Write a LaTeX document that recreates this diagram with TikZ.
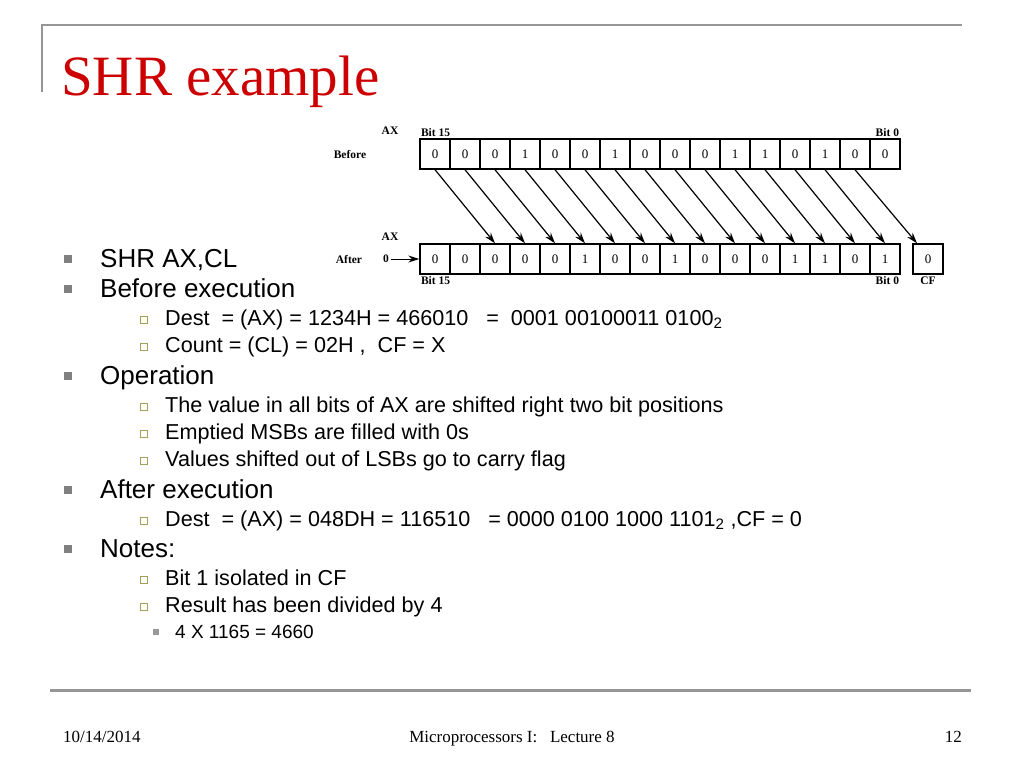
\documentclass[tikz,border=0pt]{standalone}
\usepackage{fontspec}
\setmainfont{Liberation Sans}
\newfontfamily\slideserif{Liberation Serif}
\usepackage{tikz}
\usetikzlibrary{arrows.meta,positioning}
\definecolor{titlered}{RGB}{204,0,0}
\definecolor{rulegray}{RGB}{150,150,150}
\definecolor{bulgray}{RGB}{128,128,128}
\definecolor{bulolive}{RGB}{160,160,90}

\tikzset{
  bit/.style={draw,line width=1.4pt,minimum width=30pt,minimum height=30pt,
    inner sep=0pt,font=\slideserif\fontsize{13}{13}\selectfont},
  lbl/.style={inner sep=1.5pt,font=\slideserif\bfseries\fontsize{11.5}{11.5}\selectfont},
  bitarrow/.style={->,line width=1.2pt},
  lone/.style={anchor=base west,inner sep=0pt,font=\fontsize{26}{26}\selectfont},
  ltwo/.style={anchor=base west,inner sep=0pt,font=\fontsize{21.6}{22}\selectfont},
  lthree/.style={anchor=base west,inner sep=0pt,font=\fontsize{19}{19}\selectfont},
  bone/.style={fill=bulgray,minimum size=8pt,inner sep=0pt},
  btwo/.style={draw=bulolive,fill=white,line width=1pt,minimum size=6.5pt,inner sep=0pt},
  bthree/.style={fill=bulgray!80,minimum size=6pt,inner sep=0pt},
  foot/.style={inner sep=0pt,font=\slideserif\fontsize{17}{17}\selectfont}
}

\begin{document}
\begin{tikzpicture}[x=1pt,y=-1pt,>={Stealth[length=11pt,width=7pt]}]
  \useasboundingbox[fill=white] (0,0) rectangle (1024,768);

  % frame and title
  \draw[rulegray,line width=2pt] (42,92) -- (42,25) -- (962,25);
  \draw[rulegray,line width=3pt] (50,690) -- (971,690);
  \node[anchor=base west,inner sep=0pt,text=titlered,
    font=\slideserif\fontsize{57}{57}\selectfont] (title) at (61,95) {SHR example};

  % register before / after
  \foreach \v [count=\i] in {0,0,0,1,0,0,1,0,0,0,1,1,0,1,0,0}
    \node[bit] (b\i) at (405+30*\i,154) {\v};
  \foreach \v [count=\i] in {0,0,0,0,0,1,0,0,1,0,0,0,1,1,0,1}
    \node[bit] (a\i) at (405+30*\i,259) {\v};
  \node[bit] (cf) at (928,259) {0};

  \foreach \i [evaluate=\i as \j using int(\i+2)] in {1,...,14}
    \draw[bitarrow] (b\i.south) -- (a\j.north);
  \draw[bitarrow] (b15.south) -- ([xshift=-11pt]cf.north);

  \node[lbl,anchor=south west] (hib) at (b1.north west) {Bit 15};
  \node[lbl,anchor=south east] (lob) at (b16.north east) {Bit 0};
  \node[lbl,anchor=north west] (hia) at (a1.south west) {Bit 15};
  \node[lbl,anchor=north east] (loa) at (a16.south east) {Bit 0};
  \node[lbl,anchor=north] (cfl) at (cf.south) {CF};
  \node[lbl] (axb) at (390,131) {AX};
  \node[lbl] (axa) at (390,237) {AX};
  \node[lbl] (before) at (350,155) {Before};
  \node[lbl] (after) at (349,260) {After};
  \node[lbl] (zin) at (386,259) {0};
  \draw[->,line width=1pt] (zin) -- (a1);

  % bullets
  \foreach \y/\t [count=\k] in {267/{SHR AX,CL},297/{Before execution},
      384/{Operation},498/{After execution},557/{Notes:}} {
    \node[bone] (bo\k) at (68,\y-8) {};
    \node[lone] (lo\k) at (100,\y) {\t};
  }
  \foreach \y/\t [count=\k] in {
      325/{Dest\ \ = (AX) = 1234H = 466010\ \ \ =\ \ 0001 00100011 0100\textsubscript{2}},
      352/{Count = (CL) = 02H ,\ \ CF = X},
      412/{The value in all bits of AX are shifted right two bit positions},
      439/{Emptied MSBs are filled with 0s},
      466/{Values shifted out of LSBs go to carry flag},
      526/{Dest\ \ = (AX) = 048DH = 116510\ \ \ = 0000 0100 1000 1101\textsubscript{2} ,CF = 0},
      585/{Bit 1 isolated in CF},
      612/{Result has been divided by 4}} {
    \node[btwo] (bt\k) at (144,\y-5) {};
    \node[ltwo] (lt\k) at (165,\y) {\t};
  }
  \node[bthree] (bh1) at (156,632) {};
  \node[lthree] (lh1) at (175,638) {4 X 1165 = 4660};

  % footer
  \node[foot,anchor=base west] (date) at (63,742) {10/14/2014};
  \node[foot,anchor=base] (course) at (512,742) {Microprocessors I:\ \ \ Lecture 8};
  \node[foot,anchor=base east] (page) at (962,742) {12};
\end{tikzpicture}
\end{document}
